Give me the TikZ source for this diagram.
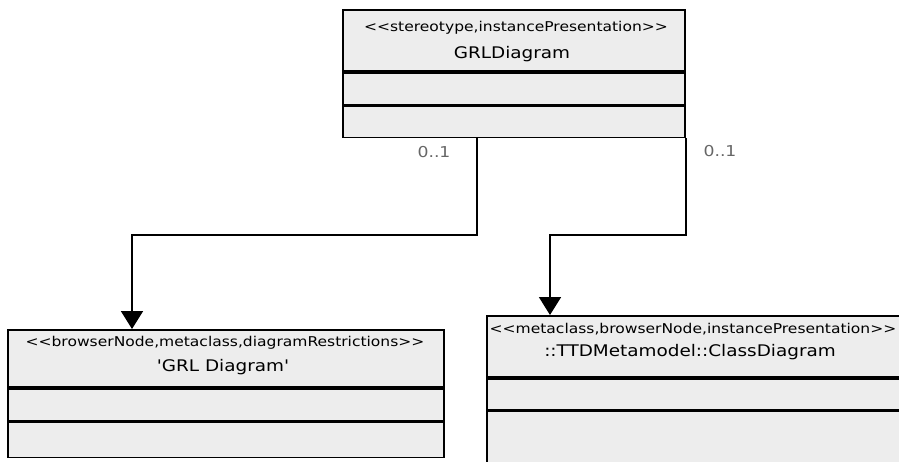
\documentclass[tikz,border=0pt]{standalone}
\usepackage{fontspec}
\setmainfont{DejaVu Sans}
\newfontfamily\umlfont[FakeStretch=1.15]{DejaVu Sans}
\usepackage{tikz}
\usetikzlibrary{arrows.meta}

\newcommand{\sterL}{{<}\kern0pt{<}}
\newcommand{\sterR}{{>}\kern0pt{>}}

\tikzset{
  comp/.style={draw, line width=1.8pt, fill=gray!14, inner sep=0pt, anchor=north west},
  ster/.style={font=\umlfont\fontsize{13.5}{16}\selectfont, inner sep=0pt},
  cname/.style={font=\umlfont\fontsize{16}{18}\selectfont, inner sep=0pt},
  mult/.style={font=\umlfont\fontsize{15}{17}\selectfont, text=black!60, inner sep=0pt},
  assoc/.style={line width=1.8pt, -{Triangle[width=22pt,length=18pt]}}
}

\begin{document}
\begin{tikzpicture}[x=1pt,y=-1pt]
        \useasboundingbox (0,0) rectangle (899,462);
        \clip (0,0) rectangle (899,462);

        % GRLDiagram
        \node[comp, minimum width=342pt, minimum height=61pt] (grlHead) at (342,9) {};
        \node[comp, minimum width=342pt, minimum height=32pt] (grlAttr) at (grlHead.south west) {};
        \node[comp, minimum width=342pt, minimum height=31pt] (grlOps) at (grlAttr.south west) {};
        \node[ster] (grlSter) at (516,28) {\sterL stereotype,instancePresentation\sterR};
        \node[cname] (grlName) at (512,54) {GRLDiagram};

        % 'GRL Diagram'
        \node[comp, minimum width=436pt, minimum height=57pt] (grlNodeHead) at (7,329) {};
        \node[comp, minimum width=436pt, minimum height=32pt] (grlNodeAttr) at (grlNodeHead.south west) {};
        \node[comp, minimum width=436pt, minimum height=35pt] (grlNodeOps) at (grlNodeAttr.south west) {};
        \node[ster] (grlNodeSter) at (225,343) {\sterL browserNode,metaclass,diagramRestrictions\sterR};
        \node[cname] (grlNodeName) at (223,367) {'GRL Diagram'};

        % ::TTDMetamodel::ClassDiagram
        \node[comp, minimum width=416pt, minimum height=61pt] (classHead) at (486,315) {};
        \node[comp, minimum width=416pt, minimum height=31pt] (classAttr) at (classHead.south west) {};
        \node[comp, minimum width=416pt, minimum height=70pt] (classOps) at (classAttr.south west) {};
        \node[ster] (classSter) at (693,329) {\sterL metaclass,browserNode,instancePresentation\sterR};
        \node[cname] (className) at (690,352) {::TTDMetamodel::ClassDiagram};

        % associations
        \draw[assoc] ([xshift=135pt]grlOps.south west) -- ++(0,97) -| ([xshift=125pt]grlNodeHead.north west);
        \draw[assoc] (grlOps.south east) -- ++(0,97) -| ([xshift=64pt]classHead.north west);

        \node[mult] (multA) at (434,152) {0..1};
        \node[mult] (multB) at (720,151) {0..1};
    \end{tikzpicture}
\end{document}
